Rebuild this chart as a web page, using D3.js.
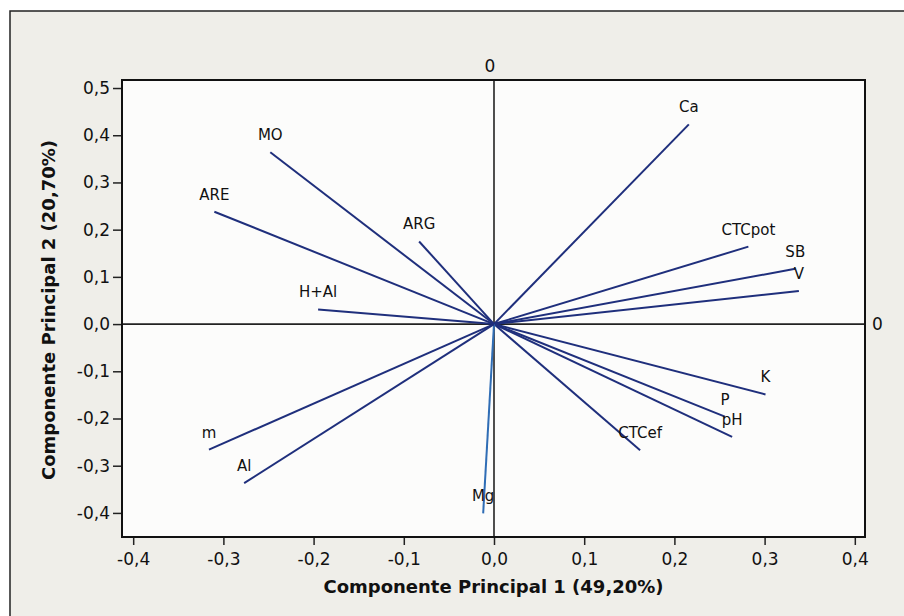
<!DOCTYPE html>
<html>
<head>
<meta charset="utf-8">
<title>Componentes principais</title>
<script src="https://cdn.jsdelivr.net/npm/d3@7/dist/d3.min.js"></script>
<style>
    body { margin: 0; background: #ffffff; }
    svg text { font-family: "DejaVu Sans", Verdana, sans-serif; fill: #111; }
</style>
</head>
<body>
<script>
// Variable names and their loadings on PC1 / PC2
var variables = ['Ca', 'CTCpot', 'SB', 'V', 'K', 'P', 'pH', 'CTCef', 'Mg', 'm', 'Al', 'H+Al', 'ARE', 'MO', 'ARG'];
var pc1 = [0.216, 0.282, 0.334, 0.338, 0.301, 0.256, 0.264, 0.162, -0.012, -0.316, -0.277, -0.195, -0.310, -0.248, -0.083];
var pc2 = [0.423, 0.164, 0.117, 0.070, -0.149, -0.196, -0.239, -0.267, -0.401, -0.266, -0.337, 0.031, 0.238, 0.364, 0.175];

var xTicks = [-0.4, -0.3, -0.2, -0.1, 0, 0.1, 0.2, 0.3, 0.4];
var yTicks = [-0.4, -0.3, -0.2, -0.1, 0, 0.1, 0.2, 0.3, 0.4, 0.5];
var xTitle = 'Componente Principal 1 (49,20%)';
var yTitle = 'Componente Principal 2 (20,70%)';

var width = 904,
    height = 616;
var plot = { left: 122, top: 80, right: 865, bottom: 537 };

var svg = d3.select('body').append('svg')
    .attr('width', width)
    .attr('height', height);

// outer panel (cut off at the right and bottom of the scan)
svg.append('rect')
    .attr('x', 10).attr('y', 11)
    .attr('width', width).attr('height', height)
    .attr('fill', '#efeee9')
    .attr('stroke', '#222').attr('stroke-width', 1.5);

// scales: 0 sits at x=494 / y=324
var x = d3.scaleLinear().domain([-0.4124, 0.4113]).range([plot.left, plot.right]);
var y = d3.scaleLinear().domain([-0.451, 0.517]).range([plot.bottom, plot.top]);

svg.append('rect')
    .attr('x', plot.left).attr('y', plot.top)
    .attr('width', plot.right - plot.left).attr('height', plot.bottom - plot.top)
    .attr('fill', '#fcfcfb');

var fmt = function(d) {
    return d3.format('.1f')(d).replace('.', ',').replace('\u2212', '-');
};

var yAxis = svg.append('g')
    .attr('transform', 'translate(' + plot.left + ',0)')
    .call(d3.axisLeft(y).tickValues(yTicks).tickSize(9).tickPadding(3).tickFormat(fmt));
var xAxis = svg.append('g')
    .attr('transform', 'translate(0,' + plot.bottom + ')')
    .call(d3.axisBottom(x).tickValues(xTicks).tickSize(8).tickPadding(8).tickFormat(fmt));

[xAxis, yAxis].forEach(function(a) {
    a.select('.domain').remove();
    a.selectAll('line').attr('stroke', '#222').attr('stroke-width', 1.5);
    a.selectAll('text').attr('font-size', 17).attr('fill', '#111')
        .attr('font-family', '"DejaVu Sans", Verdana, sans-serif');
});

// reference lines through the origin
svg.append('line')
    .attr('x1', x(0)).attr('x2', x(0))
    .attr('y1', plot.top).attr('y2', plot.bottom)
    .attr('stroke', '#222').attr('stroke-width', 1.6);
svg.append('line')
    .attr('x1', plot.left).attr('x2', plot.right)
    .attr('y1', y(0)).attr('y2', y(0))
    .attr('stroke', '#222').attr('stroke-width', 1.6);

svg.append('text')
    .attr('x', x(0) - 4).attr('y', plot.top - 8)
    .attr('text-anchor', 'middle').attr('font-size', 17)
    .text('0');
svg.append('text')
    .attr('x', plot.right + 7).attr('y', y(0) + 6)
    .attr('font-size', 17)
    .text('0');

// loading vectors
var idx = d3.range(variables.length);
svg.selectAll('.vec')
    .data(idx)
    .enter().append('line')
    .attr('class', 'vec')
    .attr('x1', x(0)).attr('y1', y(0))
    .attr('x2', function(i) { return x(pc1[i]); })
    .attr('y2', function(i) { return y(pc2[i]); })
    .attr('stroke', function(i) { return variables[i] === 'Mg' ? '#2f6db5' : '#1f2f7c'; })
    .attr('stroke-width', 2);

svg.selectAll('.lbl')
    .data(idx)
    .enter().append('text')
    .attr('class', 'lbl')
    .attr('x', function(i) { return x(pc1[i]); })
    .attr('y', function(i) { return y(pc2[i]) - 12; })
    .attr('text-anchor', 'middle')
    .attr('font-size', 15)
    .attr('fill', '#1a1a1a')
    .text(function(i) { return variables[i]; });

// plot border on top
svg.append('rect')
    .attr('x', plot.left).attr('y', plot.top)
    .attr('width', plot.right - plot.left).attr('height', plot.bottom - plot.top)
    .attr('fill', 'none')
    .attr('stroke', '#111').attr('stroke-width', 2);

// axis titles
svg.append('text')
    .attr('x', (plot.left + plot.right) / 2).attr('y', 593)
    .attr('text-anchor', 'middle')
    .attr('font-size', 18).attr('font-weight', 'bold')
    .text(xTitle);
svg.append('text')
    .attr('transform', 'translate(55,' + 310 + ') rotate(-90)')
    .attr('text-anchor', 'middle')
    .attr('font-size', 18).attr('font-weight', 'bold')
    .text(yTitle);
</script>
</body>
</html>
